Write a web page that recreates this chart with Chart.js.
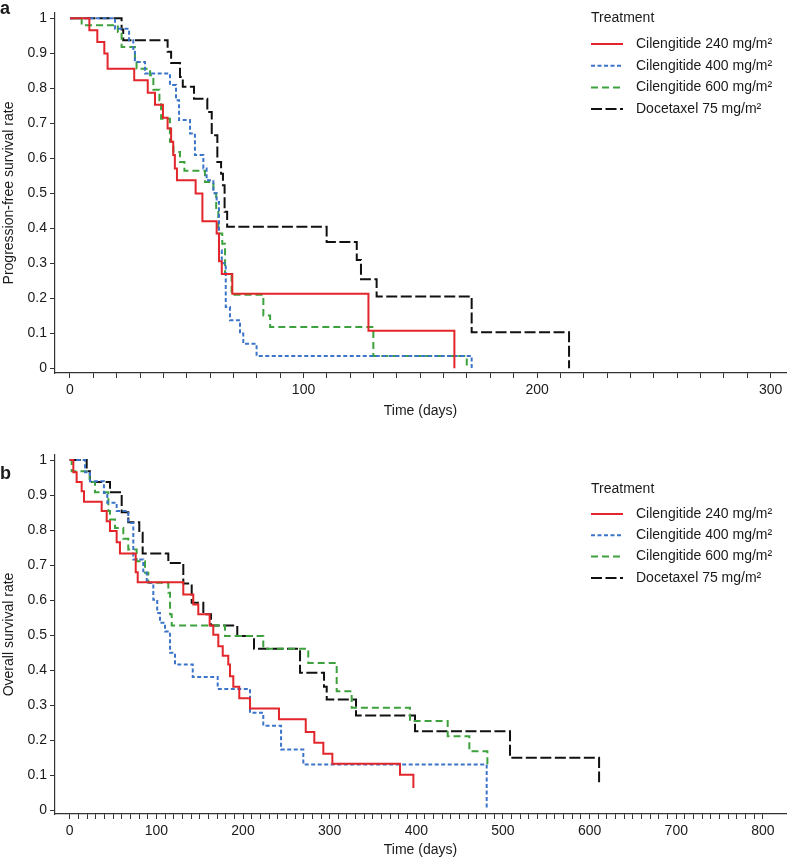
<!DOCTYPE html>
<html>
<head>
<meta charset="utf-8">
<script src="https://cdn.jsdelivr.net/npm/chart.js@4.4.1/dist/chart.umd.min.js"></script>
<style>
  html, body { margin: 0; padding: 0; background: #fff; }
  .panel { position: relative; width: 787px; }
  #pfsBox { height: 440px; }
  #osBox { height: 421px; }
</style>
</head>
<body>
<div class="panel" id="pfsBox"><canvas id="pfsChart"></canvas></div>
<div class="panel" id="osBox"><canvas id="osChart"></canvas></div>
<script>
// treatment arms
const arms = ['Cilengitide 240 mg/m²', 'Cilengitide 400 mg/m²', 'Cilengitide 600 mg/m²', 'Docetaxel 75 mg/m²'];

// a: progression-free survival, step times (days) and rate after each step
const pfsDays240 = [0, 8.3, 11.7, 14.7, 16.1, 27.5, 33.3, 36.4, 39.8, 41.8, 43.3, 44.2, 44.9, 45.8, 53.8, 56.7, 62.8, 63.8, 65.0, 69.5, 127.8, 164.6];
const pfsRate240 = [1, 0.966, 0.932, 0.899, 0.856, 0.823, 0.787, 0.753, 0.716, 0.685, 0.647, 0.609, 0.571, 0.537, 0.499, 0.42, 0.385, 0.306, 0.269, 0.213, 0.107, 0];
const pfsDays400 = [0, 19.3, 25.3, 27.1, 27.8, 32.1, 42.8, 45.4, 46.7, 51.4, 53.5, 57.1, 58.5, 61.4, 62.8, 63.8, 65.0, 66.7, 68.5, 72.8, 74.2, 79.9, 172];
const pfsRate400 = [1, 0.97, 0.937, 0.904, 0.875, 0.842, 0.809, 0.766, 0.709, 0.671, 0.609, 0.571, 0.537, 0.5, 0.475, 0.337, 0.3, 0.175, 0.137, 0.099, 0.07, 0.035, 0];
const pfsDays600 = [0, 5.0, 20.5, 22.1, 27.8, 28.5, 34.3, 35.7, 38.3, 39.0, 42.8, 44.3, 47.1, 49.0, 57.8, 61.4, 62.6, 63.5, 65.2, 66.4, 69.2, 82.8, 85.7, 129.9, 169.9];
const pfsRate600 = [1, 0.98, 0.961, 0.918, 0.875, 0.856, 0.837, 0.796, 0.766, 0.713, 0.647, 0.618, 0.589, 0.564, 0.532, 0.5, 0.45, 0.385, 0.356, 0.269, 0.21, 0.151, 0.118, 0.035, 0];
const pfsDaysDoc = [0, 22.1, 22.8, 41.8, 43.3, 47.1, 48.3, 53.1, 58.8, 60.7, 63.1, 64.7, 65.5, 66.2, 67.3, 109.9, 122.8, 124.6, 131.3, 172, 213.7];
const pfsRateDoc = [1, 0.968, 0.937, 0.904, 0.872, 0.832, 0.804, 0.77, 0.732, 0.666, 0.589, 0.556, 0.523, 0.447, 0.404, 0.361, 0.309, 0.254, 0.205, 0.103, 0];

// b: overall survival
const osDays240 = [0, 4.2, 8.0, 13.8, 16.5, 36.9, 42.7, 46.5, 54.2, 58.0, 76.2, 78.5, 131.1, 142.6, 148.4, 161.5, 165.7, 171.5, 176.6, 183.0, 185.0, 188.8, 195.7, 208.1, 241.5, 272.4, 282.3, 292.7, 303.1, 381.2, 396.6];
const osRate240 = [1, 0.965, 0.937, 0.911, 0.881, 0.854, 0.825, 0.797, 0.765, 0.733, 0.679, 0.651, 0.616, 0.587, 0.559, 0.527, 0.501, 0.468, 0.441, 0.416, 0.382, 0.352, 0.319, 0.29, 0.259, 0.223, 0.192, 0.161, 0.132, 0.101, 0.063];
const osDays400 = [0, 17.7, 23.4, 39.5, 43.4, 54.2, 67.6, 73.4, 84.9, 88.9, 96.5, 101.0, 104.2, 110.0, 115.8, 121.5, 142.0, 170.8, 208.1, 223.4, 243.9, 269.6, 481.2];
const osRate400 = [1, 0.965, 0.939, 0.906, 0.878, 0.854, 0.82, 0.716, 0.682, 0.649, 0.601, 0.563, 0.535, 0.51, 0.449, 0.416, 0.38, 0.346, 0.278, 0.241, 0.173, 0.13, 0];
const osDays600 = [0, 2.3, 23.0, 29.2, 44.6, 46.5, 52.3, 61.9, 67.6, 77.3, 86.9, 90.7, 113.8, 115.8, 117.7, 179.2, 223.4, 275.3, 308.1, 325.4, 392.7, 436.2, 461.2, 482.0];
const osRate600 = [1, 0.968, 0.937, 0.908, 0.854, 0.83, 0.806, 0.775, 0.744, 0.711, 0.678, 0.649, 0.621, 0.559, 0.527, 0.497, 0.461, 0.42, 0.339, 0.292, 0.254, 0.211, 0.168, 0.125];
const osDaysDoc = [0, 19.6, 23.4, 46.5, 60.0, 67.6, 80.3, 84.2, 113.8, 131.1, 140.8, 154.2, 163.1, 193.4, 212.7, 265.8, 293.5, 296.6, 330.4, 398.5, 508.1, 610.9];
const osRateDoc = [1, 0.968, 0.937, 0.908, 0.851, 0.822, 0.792, 0.733, 0.706, 0.647, 0.592, 0.559, 0.527, 0.497, 0.461, 0.392, 0.352, 0.316, 0.27, 0.225, 0.149, 0.079];

const armColors = ['#e2262b', '#3b74c9', '#3da23d', '#111111'];
const armDashes = [[], [4, 2.5], [7, 4], [11, 3.5]];

const fontFamily = '"Liberation Sans", Arial, Helvetica, sans-serif';
const textColor = '#1a1a1a';

function toPoints(days, rates) {
  return days.map((d, i) => ({ x: d, y: rates[i] }));
}

function makeDatasets(series) {
  return series.map((s, i) => ({
    label: arms[i],
    data: toPoints(s[0], s[1]),
    borderColor: armColors[i],
    backgroundColor: armColors[i],
    borderWidth: 2,
    borderDash: armDashes[i],
    showLine: true,
    stepped: 'before',
    pointRadius: 0,
    pointHoverRadius: 0,
    fill: false
  }));
}

// legend + panel letter drawn inside the plot area
const kmLegend = {
  id: 'kmLegend',
  afterDraw(chart, args, opts) {
    const ctx = chart.ctx;
    ctx.save();
    ctx.textBaseline = 'middle';
    ctx.fillStyle = textColor;
    ctx.font = '14px ' + fontFamily;
    ctx.fillText('Treatment', opts.x, opts.y);
    chart.data.datasets.forEach((ds, i) => {
      const y = opts.y + opts.first + i * opts.gap;
      ctx.strokeStyle = ds.borderColor;
      ctx.lineWidth = ds.borderWidth;
      ctx.setLineDash(ds.borderDash);
      ctx.beginPath();
      ctx.moveTo(opts.x, y);
      ctx.lineTo(opts.x + 32, y);
      ctx.stroke();
      ctx.setLineDash([]);
      ctx.fillText(ds.label, opts.x + 45, y);
    });
    ctx.font = 'bold 18px ' + fontFamily;
    ctx.fillText(opts.letter, 0, opts.letterY);
    ctx.restore();
  }
};

function makeChart(id, series, cfg) {
  return new Chart(document.getElementById(id), {
    type: 'scatter',
    data: { datasets: makeDatasets(series) },
    options: {
      responsive: true,
      maintainAspectRatio: false,
      animation: false,
      layout: { padding: cfg.padding },
      plugins: {
        legend: { display: false },
        tooltip: { enabled: false },
        kmLegend: cfg.legend
      },
      scales: {
        x: {
          type: 'linear',
          min: cfg.xMin,
          max: cfg.xMax,
          afterFit: (scale) => { scale.height = cfg.xHeight; },
          afterBuildTicks: (scale) => {
            const t = [];
            for (let v = 0; v <= cfg.xLast; v += 10) t.push({ value: v });
            scale.ticks = t;
          },
          ticks: {
            autoSkip: false,
            maxRotation: 0,
            padding: 4,
            color: textColor,
            font: { family: fontFamily, size: 14 },
            callback: (v) => (v % 100 === 0 ? String(v) : '')
          },
          grid: { drawOnChartArea: false, drawTicks: true, tickLength: 5, color: '#333', tickWidth: 1 },
          border: { display: true, color: '#333', width: 1.2 },
          title: {
            display: true,
            text: 'Time (days)',
            color: textColor,
            font: { family: fontFamily, size: 14 },
            padding: { top: 0, bottom: 0 }
          }
        },
        y: {
          type: 'linear',
          min: cfg.yMin,
          max: cfg.yMax,
          afterFit: (scale) => { scale.width = 55; },
          afterBuildTicks: (scale) => {
            const t = [];
            for (let k = 0; k <= 10; k++) t.push({ value: k / 10 });
            scale.ticks = t;
          },
          ticks: {
            padding: 3,
            color: textColor,
            font: { family: fontFamily, size: 14 },
            callback: (v) => String(Math.round(v * 10) / 10)
          },
          grid: { drawOnChartArea: false, drawTicks: true, tickLength: 5, color: '#333', tickWidth: 1 },
          border: { display: true, color: '#333', width: 1.2 },
          title: {
            display: true,
            text: cfg.yTitle,
            color: textColor,
            font: { family: fontFamily, size: 14 },
            padding: { top: 1, bottom: 0 }
          }
        }
      }
    },
    plugins: [kmLegend]
  });
}

makeChart('pfsChart', [
  [pfsDays240, pfsRate240],
  [pfsDays400, pfsRate400],
  [pfsDays600, pfsRate600],
  [pfsDaysDoc, pfsRateDoc]
], {
  padding: { left: 0, right: 1, top: 13, bottom: 20 },
  xMin: -6.42, xMax: 306.6, xLast: 300, xHeight: 47,
  yMin: -0.0136, yMax: 1.015,
  yTitle: 'Progression-free survival rate',
  legend: { x: 591, y: 18, first: 26, gap: 21.7, letter: 'a', letterY: 9 }
});

makeChart('osChart', [
  [osDays240, osRate240],
  [osDays400, osRate400],
  [osDays600, osRate600],
  [osDaysDoc, osRateDoc]
], {
  padding: { left: 0, right: 1, top: 15, bottom: 2 },
  xMin: -16.96, xMax: 826.6, xLast: 800, xHeight: 45,
  yMin: -0.0114, yMax: 1.0143,
  yTitle: 'Overall survival rate',
  legend: { x: 591, y: 49, first: 25, gap: 21.3, letter: 'b', letterY: 34 }
});
</script>
</body>
</html>
